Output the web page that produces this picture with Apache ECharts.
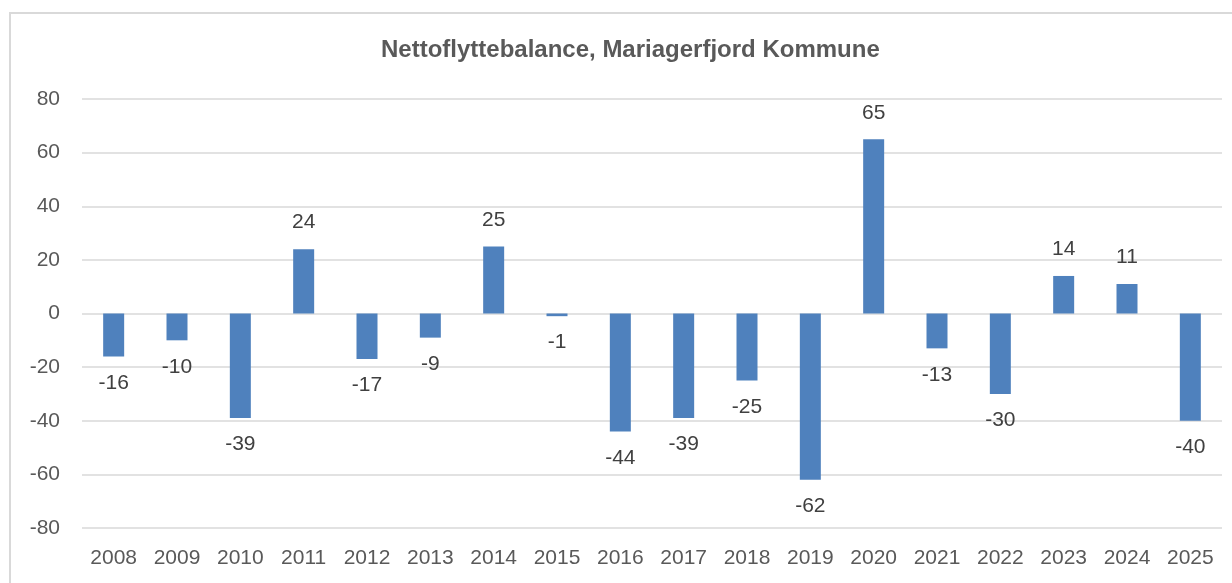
<!DOCTYPE html>
<html><head><meta charset="utf-8">
<script src="https://cdn.jsdelivr.net/npm/echarts@6/dist/echarts.min.js"></script>
<style>html,body{margin:0;padding:0;background:#fff}#c{width:1232px;height:583px}</style>
</head><body><div id="c"></div>
<script>
const titleText = 'Nettoflyttebalance, Mariagerfjord Kommune';
const years = ['2008','2009','2010','2011','2012','2013','2014','2015','2016','2017','2018','2019','2020','2021','2022','2023','2024','2025'];
const netMigration = [-16,-10,-39,24,-17,-9,25,-1,-44,-39,-25,-62,65,-13,-30,14,11,-40];
const yMin = -80, yMax = 80, yStep = 20;

const chart = echarts.init(document.getElementById('c'), null, {renderer:'canvas'});
const font = 'Liberation Sans, Arial, sans-serif';
chart.setOption({
  animation:false,
  backgroundColor:'#fff',
  graphic:[{type:'rect',silent:true,shape:{x:10,y:13,width:1240,height:600},style:{fill:'none',stroke:'#d9d9d9',lineWidth:2}}],
  title:{text:titleText,left:376,top:33,textStyle:{fontFamily:font,fontSize:24,fontWeight:'bold',color:'#595959'}},
  grid:{left:82,right:10,top:99,bottom:55,containLabel:false},
  xAxis:{type:'category',data:years,
    axisLine:{show:false},axisTick:{show:false},
    axisLabel:{color:'#595959',fontSize:21,fontFamily:font,margin:20}},
  yAxis:{type:'value',min:yMin,max:yMax,interval:yStep,
    axisLine:{show:false},axisTick:{show:false},
    splitLine:{lineStyle:{color:'#d9d9d9',width:1.5}},
    axisLabel:{color:'#595959',fontSize:21,fontFamily:font,margin:22}},
  series:[{type:'bar',barWidth:21,
    itemStyle:{color:'#4f81bd'},
    data:netMigration.map(v=>({value:v,label:{position:v>=0?'top':'bottom'}})),
    label:{show:true,distance:16,color:'#404040',fontSize:21,fontFamily:font}}]
});
</script></body></html>
